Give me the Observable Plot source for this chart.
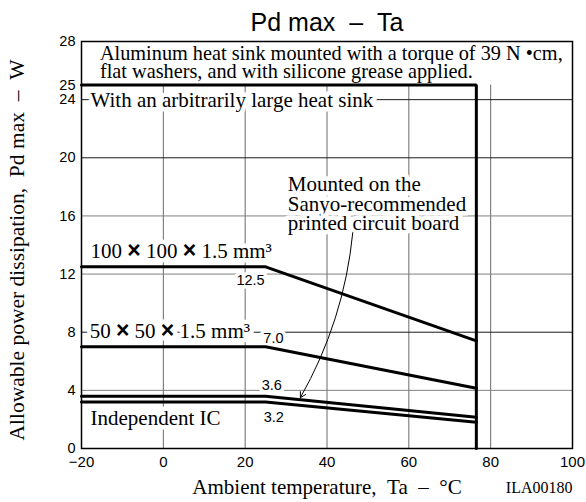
<!DOCTYPE html>
<html>
<head>
<meta charset="utf-8">
<script src="https://cdn.jsdelivr.net/npm/d3@7"></script>
<script src="https://cdn.jsdelivr.net/npm/@observablehq/plot@0.6"></script>
<style>
  html, body { margin: 0; padding: 0; background: #fff; }
</style>
</head>
<body>
<div id="chart"></div>
<script>
// ---- data ----
const ta = [-20, 25, 76.5];            // ambient temperature breakpoints (°C)
const pd100 = [12.5, 12.5, 7.4];       // 100×100×1.5 mm³ board
const pd50 = [7.0, 7.0, 4.15];         // 50×50×1.5 mm³ board
const pdPcb = [3.6, 3.6, 2.15];        // Sanyo-recommended PCB
const pdIC = [3.2, 3.2, 1.8];          // independent IC
const sinkTa = [-20, 76.5, 76.5];      // arbitrarily large heat sink
const sinkPd = [25, 25, 0];

const xTicks = [-20, 0, 20, 40, 60, 80, 100];
const yTicks = [0, 4, 8, 12, 16, 20, 24, 25, 28];
const gridX = [0, 20, 40, 60, 80];
const gridYDark = [8, 20, 24];
const gridYLight = [4, 12, 16];

// annotation texts and their anchor positions (data units)
const noteLines = ["Aluminum heat sink mounted with a torque of 39 N •cm,", "flat washers, and with silicone grease applied."];
const noteX = [-15.5, -15.5];
const noteY = [26.75, 25.52];

const serifLabels = ["With an arbitrarily large heat sink", "100 × 100 × 1.5 mm³", "50 × 50 × 1.5 mm³", "Independent IC",
  "Mounted on the", "Sanyo-recommended", "printed circuit board"];
const serifX = [-17.8, -17.8, -18.0, -17.8, 30.4, 30.4, 30.4];
const serifY = [23.52, 13.14, 7.57, 1.65, 17.74, 16.37, 15.06];

const valueLabels = ["12.5", "7.0", "3.6", "3.2"];
const valueX = [21.3, 26.9, 26.5, 27.0];
const valueY = [11.55, 7.6, 4.33, 2.15];

const arrowFrom = [46.3, 14.85];
const arrowTo = [33.5, 3.5];

// ---- build tables ----
const series = [pd100, pd50, pdPcb, pdIC].map((vals, k) => ta.map((t, i) => ({t, p: vals[i], k})));
const sink = sinkTa.map((t, i) => ({t, p: sinkPd[i]}));
const notes = noteLines.map((s, i) => ({s, x: noteX[i], y: noteY[i]}));
const slabs = serifLabels.map((s, i) => ({s, x: serifX[i], y: serifY[i]}));
const vlabs = valueLabels.map((s, i) => ({s, x: valueX[i], y: valueY[i]}));

const serif = "Liberation Serif, Times New Roman, serif";
const sans = "Liberation Sans, Arial, Helvetica, sans-serif";

const plot = Plot.plot({
  width: 586,
  height: 502,
  marginLeft: 81,
  marginRight: 14,
  marginTop: 41,
  marginBottom: 54,
  x: {domain: [-20, 100]},
  y: {domain: [0, 28]},
  style: {fontFamily: sans, fontSize: "14px", background: "#fff", color: "#000", overflow: "visible"},
  marks: [
    Plot.ruleX(gridX, {y1: 0, y2: 25, stroke: "#6a6a6a", strokeWidth: 1}),
    Plot.ruleY(gridYLight, {stroke: "#808080", strokeWidth: 1}),
    Plot.ruleY(gridYDark, {stroke: "#1a1a1a", strokeWidth: 1}),
    Plot.text(notes, {x: "x", y: "y", text: "s", textAnchor: "start", lineAnchor: "bottom",
      fontFamily: serif, fontSize: 20.3, fill: "#000", stroke: "#fff", strokeWidth: 8, paintOrder: "stroke"}),
    Plot.text(slabs, {x: "x", y: "y", text: "s", textAnchor: "start", lineAnchor: "bottom",
      fontFamily: serif, fontSize: 21, fill: "#000", stroke: "#fff", strokeWidth: 9, paintOrder: "stroke"}),
    Plot.text(vlabs, {x: "x", y: "y", text: "s", textAnchor: "middle", lineAnchor: "middle",
      fontFamily: sans, fontSize: 14.5, fill: "#000", stroke: "#fff", strokeWidth: 7, paintOrder: "stroke"}),
    Plot.line(series.flat(), {x: "t", y: "p", z: "k", stroke: "#000", strokeWidth: 3, strokeLinejoin: "miter"}),
    Plot.line(sink, {x: "t", y: "p", stroke: "#000", strokeWidth: 3, strokeLinejoin: "miter"}),
    Plot.arrow([{x1: arrowFrom[0], y1: arrowFrom[1], x2: arrowTo[0], y2: arrowTo[1]}],
      {x1: "x1", y1: "y1", x2: "x2", y2: "y2", bend: 12, headLength: 9, stroke: "#000", strokeWidth: 1, insetStart: 0, insetEnd: 0}),
    Plot.frame({stroke: "#000", strokeWidth: 1.5}),
    Plot.axisY(yTicks, {tickSize: 0, tickPadding: 6, fontSize: 14.5, fontFamily: sans, label: null}),
    Plot.axisX(xTicks, {tickSize: 0, tickPadding: 8, fontSize: 15, fontFamily: sans, label: null}),
    Plot.text(["Pd max\u00a0\u00a0–\u00a0\u00a0Ta"], {frameAnchor: "top", dy: -11, lineAnchor: "bottom",
      fontFamily: sans, fontSize: 25, fill: "#000"}),
    Plot.text(["Allowable power dissipation,\u00a0\u00a0Pd max\u00a0\u00a0–\u00a0\u00a0W"], {frameAnchor: "left", dx: -64, dy: 5, rotate: -90,
      textAnchor: "middle", lineAnchor: "middle", fontFamily: serif, fontSize: 21.5, fill: "#000"}),
    Plot.text(["Ambient temperature,\u00a0\u00a0Ta\u00a0\u00a0–\u00a0\u00a0°C"], {frameAnchor: "bottom", dy: 45, lineAnchor: "bottom",
      fontFamily: serif, fontSize: 21, fill: "#000"}),
    Plot.text(["ILA00180"], {frameAnchor: "bottom-right", dy: 44, textAnchor: "end", lineAnchor: "bottom",
      fontFamily: serif, fontSize: 16, fill: "#000"})
  ]
});

// enlarge the multiplication signs like the original's heavy "×"
d3.select(plot).selectAll("text").each(function() {
  const el = this;
  if (el.childElementCount === 0 && el.textContent.includes("×")) {
    const parts = el.textContent.split("×");
    el.textContent = "";
    parts.forEach((part, i) => {
      const t = document.createElementNS("http://www.w3.org/2000/svg", "tspan");
      t.textContent = part;
      el.appendChild(t);
      if (i < parts.length - 1) {
        const x = document.createElementNS("http://www.w3.org/2000/svg", "tspan");
        x.textContent = "×";
        x.setAttribute("font-family", sans);
        x.setAttribute("font-weight", "bold");
        x.setAttribute("font-size", "23");
        el.appendChild(x);
      }
    });
  }
});

document.getElementById("chart").appendChild(plot);
</script>
</body>
</html>
